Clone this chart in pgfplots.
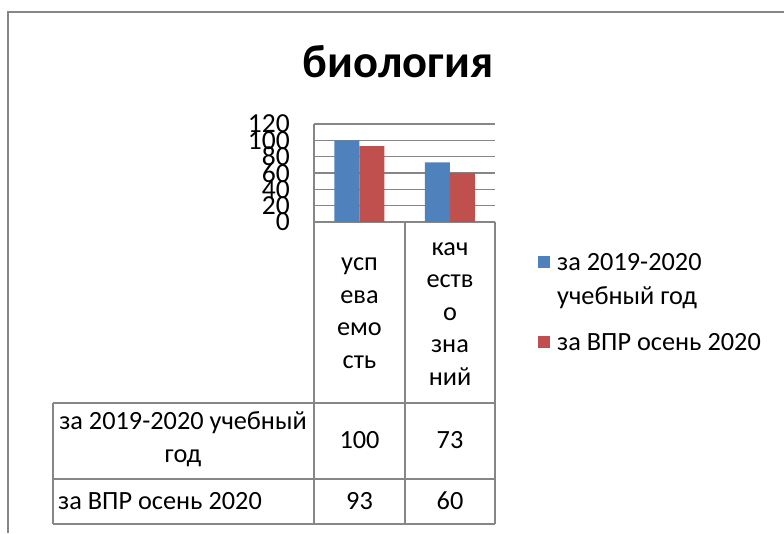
\documentclass[border=0pt]{standalone}
\usepackage{pgfplots}
\pgfplotsset{compat=1.18}
\usepackage{fontspec}
\setmainfont{Carlito}
\definecolor{serblue}{HTML}{4F81BD}
\definecolor{serred}{HTML}{C0504D}
\definecolor{gridgray}{HTML}{868686}
\begin{document}
\begin{tikzpicture}[x=1pt,y=1pt]
\useasboundingbox (0,0) rectangle (784,533);
% outer frame (left and top edges only are visible)
\draw[gridgray, line width=1.5pt] (8,0) -- (8,521) -- (784,521);
\node[anchor=base, font=\fontsize{46.5}{46.5}\selectfont\bfseries] at (398,455) {биология};

\begin{axis}[
    at={(314pt,311pt)}, anchor=south west,
    scale only axis,
    width=181pt, height=98pt,
    ybar, bar width=25pt,
    xmin=-0.5, xmax=1.5,
    ymin=0, ymax=120,
    ytick={0,20,40,60,80,100,120},
    xtick=\empty,
    ymajorgrids,
    grid style={gridgray, line width=1.3pt},
    axis x line*=bottom, axis y line*=left,
    axis line style={gridgray, line width=1.3pt},
    major tick length=0pt,
    /pgf/number format/assume math mode=true,
    yticklabel style={font=\fontsize{27.5}{27.5}\selectfont, anchor=east, inner sep=0pt, xshift=-24pt},
    clip=false,
    legend style={at={(axis description cs:1.221,-0.214)}, anchor=north west,
        draw=none, fill=none, font=\fontsize{26.3}{34}\selectfont,
        cells={anchor=base west}, row sep=23pt},
    legend image code/.code={\fill[#1] (0pt,3pt) rectangle (12pt,15pt); \path (17pt,3pt);},
]
\addplot[fill=serblue, draw=none, bar shift=-12.5pt,
    legend image code/.code={\fill[##1] (0pt,37pt) rectangle (12pt,49pt); \path (17pt,37pt);}]
    coordinates {(0,100) (1,73)};
\addlegendentry{\begin{tabular}[b]{@{}l@{}}за 2019-2020\\учебный год\end{tabular}}
\addplot[fill=serred, draw=none, bar shift=12.5pt] coordinates {(0,93) (1,60)};
\addlegendentry{за ВПР осень 2020}
\end{axis}

% data table under the plot
\begin{scope}[gridgray, line width=1.3pt]
\draw (314,311) -- (314,9);
\draw (405,311) -- (405,9);
\draw (495,311) -- (495,9);
\draw (53,130) -- (495,130);
\draw (53,54) -- (495,54);
\draw (53,9) -- (495,9);
\draw (53,130) -- (53,9);
\end{scope}
\begin{scope}[font=\fontsize{26.3}{32.5}\selectfont]
\node[align=center] at (359.5,220) {усп\\ева\\емо\\сть};
\node[align=center] at (450,219) {кач\\еств\\о\\зна\\ний};
\node[align=center] at (183,94) {за 2019-2020 учебный\\год};
\node at (359.5,93) {100};
\node at (450,93) {73};
\node[anchor=west, inner sep=0pt] at (58,32) {за ВПР осень 2020};
\node at (359.5,32) {93};
\node at (450,32) {60};
\end{scope}
\end{tikzpicture}
\end{document}
